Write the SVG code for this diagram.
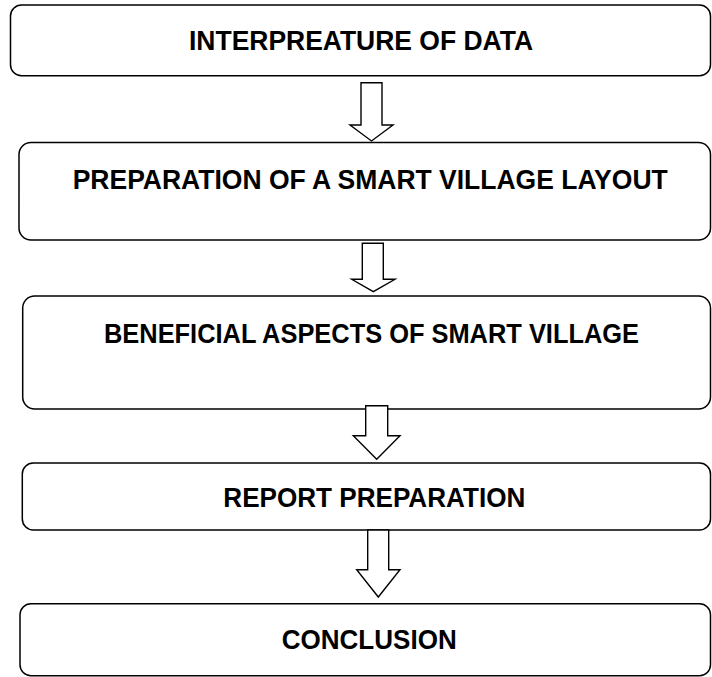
<svg xmlns="http://www.w3.org/2000/svg" width="712" height="677" viewBox="0 0 712 677">
<style>
.box{fill:#fff;stroke:#000;stroke-width:1.5}
.arrow{fill:#fff;stroke:#000;stroke-width:1.4;stroke-linejoin:miter}
.lbl{font-family:"Liberation Sans",Arial,sans-serif;font-weight:bold;font-size:27px;fill:#000}
</style>
<rect width="712" height="677" fill="#fff"/>
<g id="node1">
<rect class="box" x="10.5" y="5" width="700" height="70.7" rx="11"/>
<text class="lbl" x="189" y="50" textLength="344" lengthAdjust="spacingAndGlyphs">INTERPREATURE OF DATA</text>
</g>
<g id="node2">
<rect class="box" x="19" y="142.5" width="691.5" height="97.5" rx="12"/>
<text class="lbl" x="72.7" y="189" textLength="595" lengthAdjust="spacingAndGlyphs">PREPARATION OF A SMART VILLAGE LAYOUT</text>
</g>
<g id="node3">
<rect class="box" x="22.7" y="296" width="687.8" height="113" rx="12"/>
<text class="lbl" x="104" y="342.7" textLength="535" lengthAdjust="spacingAndGlyphs">BENEFICIAL ASPECTS OF SMART VILLAGE</text>
</g>
<g id="node4">
<rect class="box" x="22.3" y="463" width="688.2" height="67" rx="11"/>
<text class="lbl" x="223.3" y="507" textLength="302" lengthAdjust="spacingAndGlyphs">REPORT PREPARATION</text>
</g>
<g id="node5">
<rect class="box" x="20" y="603.7" width="690.5" height="72" rx="11"/>
<text class="lbl" x="281.7" y="648.7" textLength="175" lengthAdjust="spacingAndGlyphs">CONCLUSION</text>
</g>
<g id="connectors">
<polygon class="arrow" points="361,82.7 382,82.7 382,125 393,125 371.5,141 350,125 361,125"/>
<polygon class="arrow" points="362.3,243.3 383.3,243.3 383.3,279.3 395,279.3 373.3,291.7 351.7,279.3 362.3,279.3"/>
<polygon class="arrow" points="365.7,405.7 387.7,405.7 387.7,435.7 400,435.7 376.7,459.3 353.3,435.7 365.7,435.7"/>
<polygon class="arrow" points="367.7,530 388.7,530 388.7,569.7 400,569.7 378.3,597 356.7,569.7 367.7,569.7"/>
</g>
</svg>
